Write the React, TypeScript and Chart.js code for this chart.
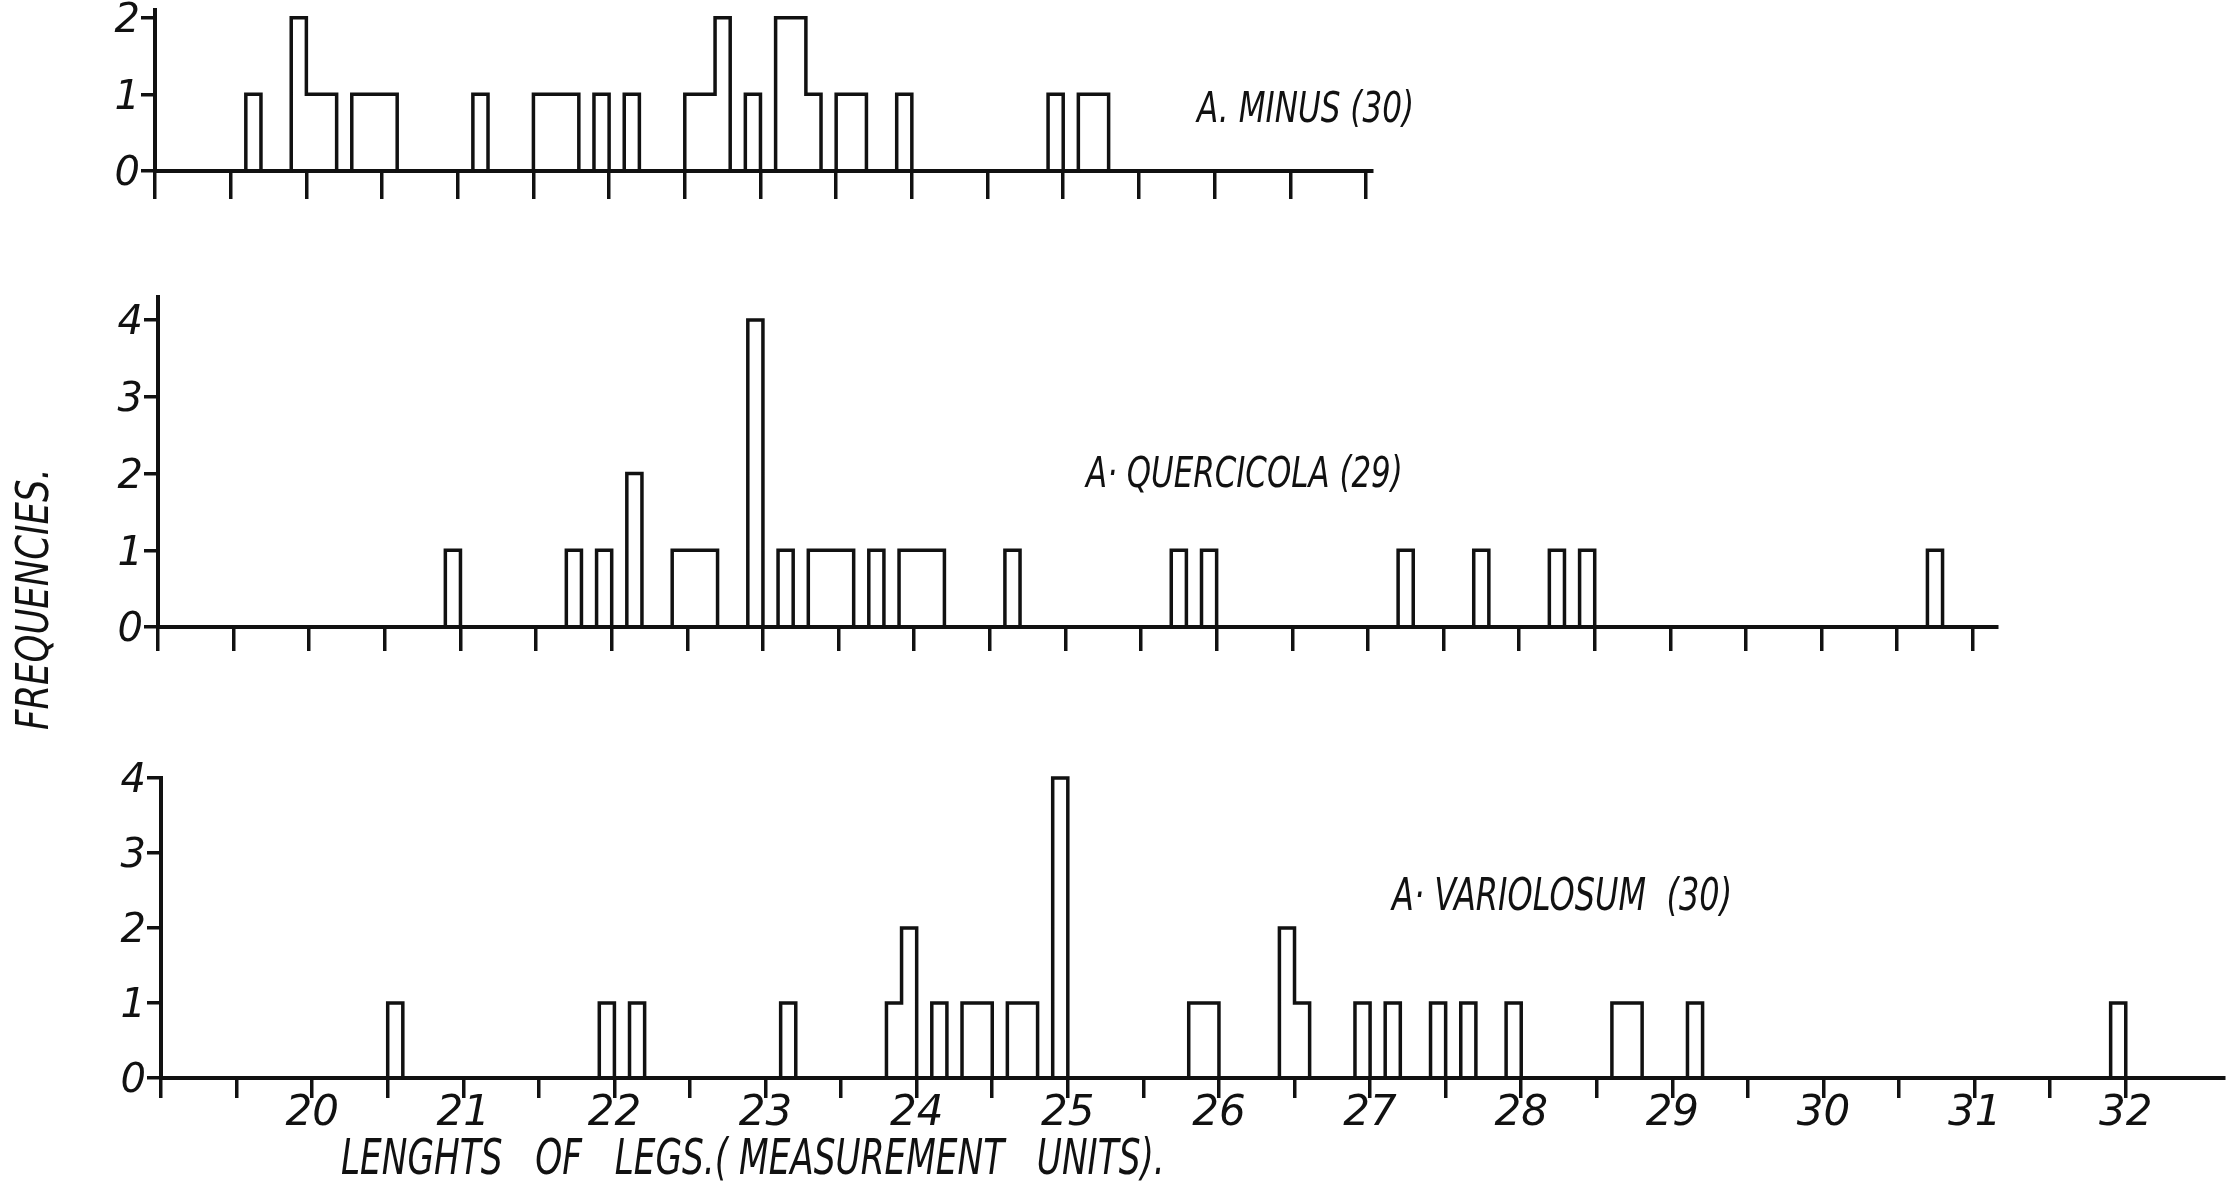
import React, { useEffect, useLayoutEffect, useRef, useState } from 'react';
import { Chart, registerables } from 'chart.js';

Chart.register(...registerables);

// ---- Data (bin starts, 0.1 measurement-unit bins, and frequencies) ----
const minusBins = [19.6, 19.9, 20.0, 20.1, 20.3, 20.4, 20.5, 21.1, 21.5, 21.6, 21.7, 21.9, 22.1, 22.5, 22.6, 22.7, 22.9, 23.1, 23.2, 23.3, 23.5, 23.6, 23.9, 24.9, 25.1, 25.2];
const minusCounts = [1, 2, 1, 1, 1, 1, 1, 1, 1, 1, 1, 1, 1, 1, 1, 2, 1, 2, 2, 1, 1, 1, 1, 1, 1, 1];

const quercicolaBins = [20.9, 21.7, 21.9, 22.1, 22.4, 22.5, 22.6, 22.9, 23.1, 23.3, 23.4, 23.5, 23.7, 23.9, 24.0, 24.1, 24.6, 25.7, 25.9, 27.2, 27.7, 28.2, 28.4, 30.7];
const quercicolaCounts = [1, 1, 1, 2, 1, 1, 1, 4, 1, 1, 1, 1, 1, 1, 1, 1, 1, 1, 1, 1, 1, 1, 1, 1];

const variolosumBins = [20.5, 21.9, 22.1, 23.1, 23.8, 23.9, 24.1, 24.3, 24.4, 24.6, 24.7, 24.9, 25.8, 25.9, 26.4, 26.5, 26.9, 27.1, 27.4, 27.6, 27.9, 28.6, 28.7, 29.1, 31.9];
const variolosumCounts = [1, 1, 1, 1, 1, 2, 1, 1, 1, 1, 1, 4, 1, 1, 2, 1, 1, 1, 1, 1, 1, 1, 1, 1, 1];

const BIN_WIDTH = 0.1;
const X_MIN = 19;

// ---- Ticks ----
const topXTicks = [19, 19.5, 20, 20.5, 21, 21.5, 22, 22.5, 23, 23.5, 24, 24.5, 25, 25.5, 26, 26.5, 27];
const midXTicks = [19, 19.5, 20, 20.5, 21, 21.5, 22, 22.5, 23, 23.5, 24, 24.5, 25, 25.5, 26, 26.5, 27, 27.5, 28, 28.5, 29, 29.5, 30, 30.5, 31];
const botXTicks = [19, 19.5, 20, 20.5, 21, 21.5, 22, 22.5, 23, 23.5, 24, 24.5, 25, 25.5, 26, 26.5, 27, 27.5, 28, 28.5, 29, 29.5, 30, 30.5, 31, 31.5, 32];
const xLabelValues = [20, 21, 22, 23, 24, 25, 26, 27, 28, 29, 30, 31, 32];
const xTickLabels = ['20', '21', '22', '23', '24', '25', '26', '27', '28', '29', '30', '31', '32'];
const yTicksSmall = [0, 1, 2];
const yTicksLarge = [0, 1, 2, 3, 4];

const FONT = "'DejaVu Sans', 'Liberation Sans', sans-serif";
const INK = '#111';
const PAGE_W = 2239;
const PAD_TOP = 30;

function outline(bins: number[], counts: number[], xMax: number) {
  const pts: { x: number; y: number }[] = [{ x: X_MIN, y: 0 }];
  for (let i = 0; i < bins.length; i++) {
    const x0 = bins[i];
    const end = Math.round((x0 + BIN_WIDTH) * 10) / 10;
    pts.push({ x: x0, y: counts[i] });
    const next = i + 1 < bins.length ? bins[i + 1] : null;
    if (next === null || Math.abs(next - end) > 1e-6) pts.push({ x: end, y: 0 });
  }
  pts.push({ x: xMax, y: 0 });
  return pts;
}

type PanelProps = {
  bins: number[];
  counts: number[];
  xMax: number;
  yMax: number;
  xTicks: number[];
  yTicks: number[];
  plotTop: number;
  baseline: number;
  left: number;
  right: number;
  axisH: number;
  xTickLen: number;
  showXLabels: boolean;
};

function Panel(p: PanelProps) {
  const ref = useRef<HTMLCanvasElement>(null);
  const height = PAD_TOP + (p.baseline - p.plotTop) + p.axisH;
  useEffect(() => {
    if (!ref.current) return;
    const chart = new Chart(ref.current, {
      type: 'line',
      data: {
        datasets: [
          {
            data: outline(p.bins, p.counts, p.xMax),
            stepped: true,
            borderColor: INK,
            borderWidth: 3.5,
            pointRadius: 0,
            fill: false,
            clip: false as any,
            borderJoinStyle: 'miter',
          } as any,
        ],
      },
      options: {
        responsive: false,
        animation: false,
        events: [],
        layout: { padding: { top: PAD_TOP, left: 0, right: PAGE_W - p.right, bottom: 0 } },
        plugins: { legend: { display: false }, tooltip: { enabled: false } },
        scales: {
          x: {
            type: 'linear',
            min: X_MIN,
            max: p.xMax,
            afterBuildTicks: (s: any) => {
              s.ticks = p.xTicks.map((v) => ({ value: v }));
            },
            afterFit: (s: any) => {
              s.height = p.axisH;
            },
            grid: { drawOnChartArea: false, drawTicks: true, tickLength: p.xTickLen, lineWidth: 3.5, color: INK },
            border: { display: true, width: 4, color: INK },
            ticks: {
              display: p.showXLabels,
              autoSkip: false,
              maxRotation: 0,
              padding: -9,
              color: INK,
              font: { family: FONT, size: 42, style: 'italic' },
              callback: (v: any) => {
                const i = xLabelValues.indexOf(Number(v));
                return i >= 0 ? xTickLabels[i] : '';
              },
            },
          },
          y: {
            type: 'linear',
            min: 0,
            max: p.yMax,
            afterBuildTicks: (s: any) => {
              s.ticks = p.yTicks.map((v) => ({ value: v }));
            },
            afterFit: (s: any) => {
              s.width = p.left;
            },
            grid: { drawOnChartArea: false, drawTicks: true, tickLength: 14, lineWidth: 3.5, color: INK },
            border: { display: true, width: 4, color: INK },
            ticks: {
              padding: 1,
              labelOffset: 4,
              color: INK,
              font: { family: FONT, size: 40, style: 'italic' },
              callback: (v: any) => String(v),
            },
          },
        },
      },
    });
    return () => chart.destroy();
  }, []);
  return (
    <canvas
      ref={ref}
      width={PAGE_W}
      height={height}
      style={{ position: 'absolute', left: 0, top: p.plotTop - PAD_TOP, width: PAGE_W, height }}
    />
  );
}

function FitText(props: { text: string; x: number; capTop: number; width: number; size: number; rotate?: boolean }) {
  const ref = useRef<HTMLDivElement>(null);
  const [sx, setSx] = useState(1);
  useLayoutEffect(() => {
    const el = ref.current;
    if (el && el.offsetWidth > 0) setSx(props.width / el.offsetWidth);
  }, [props.text, props.width, props.size]);
  const off = 0.117 * props.size;
  const style: React.CSSProperties = {
    position: 'absolute',
    fontFamily: FONT,
    fontStyle: 'italic',
    fontSize: props.size,
    lineHeight: `${props.size}px`,
    whiteSpace: 'pre',
    color: INK,
    transformOrigin: '0 0',
  };
  if (props.rotate) {
    style.left = props.x - off;
    style.top = props.capTop;
    style.transform = `rotate(-90deg) scaleX(${sx})`;
  } else {
    style.left = props.x;
    style.top = props.capTop - off;
    style.transform = `scaleX(${sx})`;
  }
  return (
    <div ref={ref} style={style}>
      {props.text}
    </div>
  );
}

export default function App() {
  return (
    <div style={{ position: 'absolute', left: 0, top: 0, width: PAGE_W, height: 1183, overflow: 'hidden', background: '#fff' }}>
      <Panel
        bins={minusBins}
        counts={minusCounts}
        xMax={27.04}
        yMax={2.1}
        xTicks={topXTicks}
        yTicks={yTicksSmall}
        plotTop={10}
        baseline={171}
        left={155}
        right={1372}
        axisH={40}
        xTickLen={28}
        showXLabels={false}
      />
      <Panel
        bins={quercicolaBins}
        counts={quercicolaCounts}
        xMax={31.16}
        yMax={4.3}
        xTicks={midXTicks}
        yTicks={yTicksLarge}
        plotTop={297}
        baseline={627}
        left={158}
        right={1997}
        axisH={40}
        xTickLen={24}
        showXLabels={false}
      />
      <Panel
        bins={variolosumBins}
        counts={variolosumCounts}
        xMax={32.65}
        yMax={4}
        xTicks={botXTicks}
        yTicks={yTicksLarge}
        plotTop={778}
        baseline={1078}
        left={161}
        right={2224}
        axisH={80}
        xTickLen={20}
        showXLabels={true}
      />
      <FitText text="A. MINUS (30)" x={1197} capTop={92} width={217} size={42} />
      <FitText text="A· QUERCICOLA (29)" x={1086} capTop={457} width={317} size={42} />
      <FitText text="A· VARIOLOSUM  (30)" x={1392} capTop={877} width={340} size={45} />
      <FitText text="LENGHTS   OF   LEGS.( MEASUREMENT   UNITS)." x={341} capTop={1138} width={824} size={50} />
      <FitText text="FREQUENCIES." x={16} capTop={730} width={262} size={44} rotate />
    </div>
  );
}
